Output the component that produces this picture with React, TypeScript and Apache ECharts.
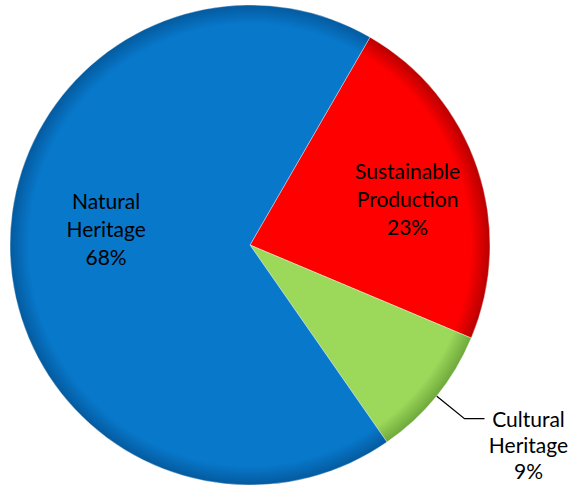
import React, { useEffect, useRef } from "react";
import * as echarts from "echarts";

const categories = ["Sustainable Production", "Cultural Heritage", "Natural Heritage"];
const labelLines = [["Sustainable", "Production"], ["Cultural", "Heritage"], ["Natural", "Heritage"]];
const values = [23, 9, 68];
const baseColors = ["#FE0000", "#9CD95B", "#0878CB"];
const edgeColors = ["#B80000", "#6FA83C", "#045A9E"];

export default function App() {
  const ref = useRef<HTMLDivElement>(null);
  useEffect(() => {
    if (!ref.current) return;
    const chart = echarts.init(ref.current, null, { renderer: "svg" });
    const cx = 250, cy = 245, r = 240;
    const data = categories.map((name, i) => ({
      name,
      value: values[i],
      itemStyle: {
        color: new echarts.graphic.RadialGradient(cx, cy, r, [
          { offset: 0, color: baseColors[i] },
          { offset: 0.92, color: baseColors[i] },
          { offset: 1, color: edgeColors[i] },
        ], true),
      },
      label:
        i === 1
          ? {
              position: "outside",
              distanceToLabelLine: 1,
              formatter: () => `{c|${labelLines[i][0]}}\n{c|${labelLines[i][1]}}\n{c|${values[i]}%}`,
              padding: [52, 0, 0, 0],
              rich: { c: { width: 86, align: "center", fontSize: 21, lineHeight: 26, color: "#000", fontFamily: "Lato" } },
            }
          : {
              position: "inside",
              formatter: () => `${labelLines[i][0]}\n${labelLines[i][1]}\n${values[i]}%`,
            },
      labelLine: i === 1 ? { show: true, length: 36, length2: 20, lineStyle: { color: "#000", width: 1.3 } } : { show: false },
    }));
    chart.setOption({
      animation: false,
      series: [
        {
          type: "pie",
          center: [cx, cy],
          radius: [0, r],
          startAngle: 60,
          clockwise: true,
          avoidLabelOverlap: false,
          data,
          itemStyle: { borderColor: "rgba(255,255,255,0.35)", borderWidth: 1 },
          label: {
            show: true,
            color: "#000",
            fontSize: 21,
            lineHeight: 28,
            fontFamily: "Lato",
            align: "center",
          },
          labelLayout: (p: any) => {
            if (p.dataIndex === 0) return { dx: 41, dy: -7 };
            if (p.dataIndex === 2) return { dx: -21, dy: -22 };
            return {};
          },
          emphasis: { disabled: true },
        },
      ],
    });
    return () => chart.dispose();
  }, []);
  return <div ref={ref} style={{ position: "absolute", left: 0, top: 0, width: 576, height: 486 }} />;
}
